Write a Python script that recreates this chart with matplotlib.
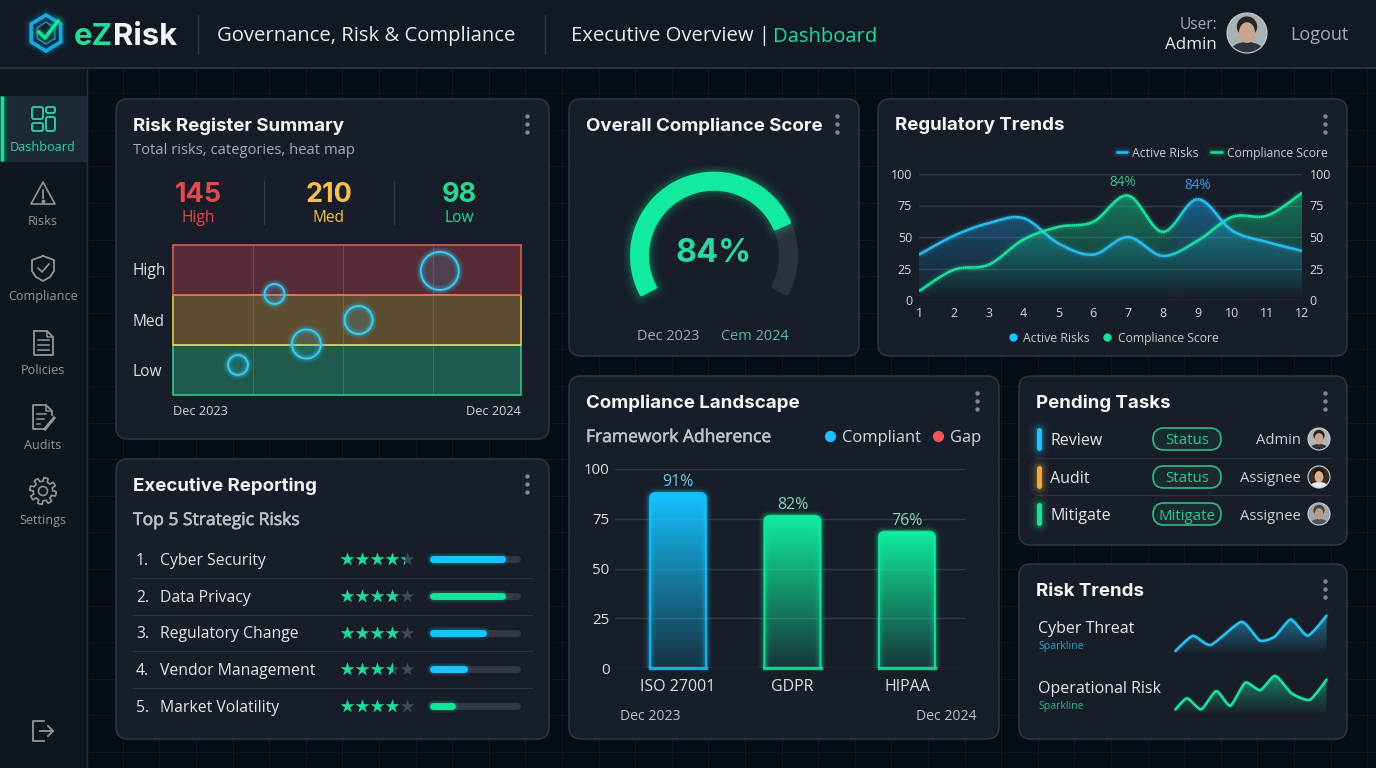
"""Recreate the eZRisk GRC dashboard screenshot."""
import matplotlib
matplotlib.use("Agg")
import matplotlib.patheffects as pe
import matplotlib.pyplot as plt
import numpy as np
from matplotlib.collections import LineCollection
from matplotlib.patches import Circle, Ellipse, FancyBboxPatch, Polygon
from matplotlib.path import Path
from matplotlib.colors import to_rgb

W, H = 1376, 768
BODY = "Open Sans"
HEAD = "Inter"

BG = "#060d15"
CARD = "#171e29"
CARD_EDGE = "#2c3743"
PANEL = "#111924"
LINE = "#2b3440"
CYAN = "#1cc4ff"
GREEN = "#14e39a"
TEAL = "#2fd3b0"
RED = "#e5484d"
AMBER = "#f5c04a"
WHITE = "#f2f4f6"
GRAY = "#a4abb3"

# --- data ---
nav_labels = ["Dashboard", "Risks", "Compliance", "Policies", "Audits", "Settings"]

stat_values = ["145", "210", "98"]
stat_labels = ["High", "Med", "Low"]
stat_colors = [RED, AMBER, "#2fd68f"]

heat_bands = ["Low", "Med", "High"]
heat_grid_months = [2.77, 5.86, 8.96]
bubble_month = [9.2, 3.5, 6.4, 4.6, 2.24]
bubble_level = [2.48, 2.02, 1.5, 1.02, 0.6]
bubble_radius = [19, 10, 14, 14.5, 10]

risk_names = ["Cyber Security", "Data Privacy", "Regulatory Change", "Vendor Management", "Market Volatility"]
risk_stars = [4.3, 4, 4, 3.5, 4]
risk_progress = [82, 82, 60, 37, 22]
risk_bar_colors = [CYAN, GREEN, CYAN, CYAN, GREEN]

gauge_score = 84

# the two traces swap colour between months 8 and 9 in the picture
months = list(range(1, 13))
active_risks = [36, 51, 61, 65, 45, 36, 50, 35, 47, 66, 67, 85]
compliance_score = [7, 24, 28, 48, 58, 62, 83, 54, 80, 55, 46, 39]

frameworks = ["ISO 27001", "GDPR", "HIPAA"]
framework_height = [88, 76.5, 68.5]
framework_label = ["91%", "82%", "76%"]
framework_color = ["#14c4ff", "#10ee9f", "#10ee9f"]

task_names = ["Review", "Audit", "Mitigate"]
task_colors = [CYAN, "#f5a83c", GREEN]
task_pills = ["Status", "Status", "Mitigate"]
task_owner = ["Admin", "Assignee", "Assignee"]

cyber_x = [0, 11.5, 23.4, 43.7, 55.8, 65.8, 76.4, 87.6, 100]
cyber_y = [10, 48, 25, 83, 36, 46, 89, 48, 98]
oper_x = [0, 7.7, 17, 27, 36.3, 46.2, 56.1, 66, 77, 89, 100]
oper_y = [14, 42, 14, 60, 23, 81, 62, 98, 54, 38, 88]

fig = plt.figure(figsize=(W / 100, H / 100), dpi=100)
fig.patch.set_facecolor(BG)
ui = fig.add_axes([0, 0, 1, 1])
ui.set_xlim(0, W)
ui.set_ylim(H, 0)
ui.axis("off")


def px_axes(l, t, r, b):
    ax = fig.add_axes([l / W, 1 - b / H, (r - l) / W, (b - t) / H])
    ax.patch.set_alpha(0)
    for s in ax.spines.values():
        s.set_visible(False)
    return ax


def txt(x, y, s, size, color=WHITE, ha="left", weight="normal", family=BODY, ax=None):
    return (ax or ui).text(x, y, s, fontsize=size * 0.72, color=color, ha=ha, va="center_baseline",
                           fontweight=weight, family=family)


def rbox(l, t, r, b, rad, fc, ec="none", lw=1.0, alpha=1.0, z=2):
    p = FancyBboxPatch((l + rad, t + rad), r - l - 2 * rad, b - t - 2 * rad,
                       boxstyle=f"round,pad={rad},rounding_size={rad}",
                       fc=fc, ec=ec, lw=lw, alpha=alpha, zorder=z)
    ui.add_patch(p)
    return p


def glow_line(ax, x, y, color, lw, z=3, cap="round"):
    for w, a in ((lw * 4, 0.06), (lw * 2.6, 0.1), (lw * 1.7, 0.16)):
        ax.plot(x, y, color=color, lw=w, alpha=a, solid_capstyle=cap, zorder=z)
    ax.plot(x, y, color=color, lw=lw, solid_capstyle=cap, zorder=z + 0.1)


def smooth_xy(xs, ys, tau=0.5, n=16):
    """Hermite curve through the read points, only for drawing the line."""
    p = np.column_stack([xs, ys]).astype(float)
    m = np.zeros_like(p)
    m[1:-1] = tau * (p[2:] - p[:-2])
    m[0] = tau * (p[1] - p[0])
    m[-1] = tau * (p[-1] - p[-2])
    out = []
    for i in range(len(p) - 1):
        for u in np.linspace(0, 1, n, endpoint=False):
            h00 = 2*u**3 - 3*u**2 + 1
            h10 = u**3 - 2*u**2 + u
            h01 = -2*u**3 + 3*u**2
            h11 = u**3 - u**2
            out.append(h00*p[i] + h10*m[i] + h01*p[i+1] + h11*m[i+1])
    out.append(p[-1])
    out = np.array(out)
    return out[:, 0], out[:, 1]


def mix_rgb(xs, c1, c2, x0, x1):
    k = np.clip((np.asarray(xs) - x0) / (x1 - x0), 0, 1)[:, None]
    return np.array(to_rgb(c1)) * (1 - k) + np.array(to_rgb(c2)) * k


def gradient_under(ax, xs, ys, c1, c2, top, base, a_top, swap=(8.0, 8.8), z=2):
    grid_x = np.linspace(xs[0], xs[-1], 200)
    rgb = mix_rgb(grid_x, c1, c2, *swap)
    img = np.zeros((64, 200, 4))
    img[..., :3] = rgb[None, :, :]
    img[..., 3] = np.linspace(a_top, 0, 64)[:, None]
    xl, yl = ax.get_xlim(), ax.get_ylim()
    im = ax.imshow(img, extent=[xs[0], xs[-1], base, top], aspect="auto", zorder=z, interpolation="bilinear")
    verts = list(zip(xs, ys)) + [(xs[-1], base), (xs[0], base), (xs[0], ys[0])]
    im.set_clip_path(Path(verts), transform=ax.transData)
    ax.set_xlim(xl)
    ax.set_ylim(yl)


def color_line(ax, xs, ys, c1, c2, lw, swap=(8.0, 8.8), z=3):
    pts = np.column_stack([xs, ys])
    segs = np.stack([pts[:-1], pts[1:]], axis=1)
    rgb = mix_rgb(xs[:-1], c1, c2, *swap)
    for w, a in ((lw * 4, 0.05), (lw * 2.6, 0.09), (lw * 1.7, 0.14), (lw, 1.0)):
        rgba = np.column_stack([rgb, np.full(len(rgb), a)])
        ax.add_collection(LineCollection(segs, colors=rgba, linewidths=w, capstyle="butt", zorder=z))


def kebab(x, y):
    ui.scatter([x] * 3, [y - 8, y, y + 8], s=10, color="#7f8792", zorder=5, linewidths=0)


def avatar(cx, cy, r, skin="#c9a58c", hair="#2a2420", shirt="#2b333d", bg="#9aa2a8"):
    clip = Circle((cx, cy), r, transform=ui.transData)
    parts = [
        Circle((cx, cy), r, fc=bg, ec="none"),
        Ellipse((cx, cy + r * 0.95), r * 1.7, r * 1.0, fc=shirt, ec="none"),
        Ellipse((cx, cy - r * 0.32), r * 1.02, r * 1.02, fc=hair, ec="none"),
        Ellipse((cx, cy - r * 0.02), r * 0.8, r * 1.04, fc=skin, ec="none"),
    ]
    for p in parts:
        p.set_zorder(6)
        ui.add_patch(p)
        p.set_clip_path(clip)
    ui.add_patch(Circle((cx, cy), r, fc="none", ec="#cdd2d6", lw=0.8, zorder=7))


# page background grid
for x in np.arange(13, W, 36.6):
    ui.plot([x, x], [68, H], color="#0a1c25", lw=0.7, zorder=0)
for y in np.arange(20, H, 36.6):
    if y > 68:
        ui.plot([87, W], [y, y], color="#0a1c25", lw=0.7, zorder=0)

# header + sidebar
ui.fill_between([0, W], 0, 68, color=PANEL, zorder=1)
ui.plot([0, W], [68, 68], color="#2a3642", lw=1.2, zorder=2)
ui.fill_between([0, 87], 68, H, color="#0e1620", zorder=1)
ui.plot([87, 87], [68, H], color="#24303b", lw=1, zorder=2)
ui.fill_between([0, 87], 96, 161, color="#1c2a36", zorder=1.5)
glow_line(ui, [1.5, 1.5], [96, 161], GREEN, 2.4, cap="butt")

# logo
hex_ang = np.deg2rad(np.arange(30, 391, 60))
hx, hy = 46 + 17 * np.cos(hex_ang), 33 + 18 * np.sin(hex_ang)
glow_line(ui, hx, hy, "#1aa8e0", 2.6)
hx2, hy2 = 46 + 10 * np.cos(hex_ang), 33 + 11 * np.sin(hex_ang)
ui.plot(hx2, hy2, color="#168fb5", lw=1.2, zorder=4)
glow_line(ui, [39, 45, 58], [32, 38, 21], GREEN, 2.6, z=5)
txt(74, 34, "eZ", 31, "#24dc9a", weight="bold", family=HEAD)
txt(113, 34, "Risk", 31, WHITE, weight="bold", family=HEAD)

ui.plot([198, 198], [15, 53], color="#2d3844", lw=1, zorder=3)
ui.plot([545, 545], [15, 53], color="#2d3844", lw=1, zorder=3)
txt(217, 34, "Governance, Risk & Compliance", 20.3, "#e9ecef")
txt(571, 34, "Executive Overview |", 20.3, "#e9ecef")
txt(773, 34, "Dashboard", 20.3, "#24dc9a")
txt(1217, 23, "User:", 15.5, GRAY, ha="right")
txt(1217, 43, "Admin", 17, "#e9ecef", ha="right")
avatar(1247, 33, 20, bg="#aab1b5")
txt(1348, 33, "Logout", 18, GRAY, ha="right")

# sidebar icons
ICON = "#8e969f"
nav_y = [146, 220, 295, 369, 444, 519]
for name, y in zip(nav_labels, nav_y):
    txt(43, y, name, 12.6, TEAL if name == "Dashboard" else "#8f969e", ha="center")

# dashboard icon
for l, t, r, b in [(32, 107, 43, 119), (46, 107, 55, 113), (32, 123, 43, 131), (46, 117, 55, 131)]:
    rbox(l, t, r, b, 2, "none", TEAL, 1.3, z=4)
# risks
ui.add_patch(Polygon([(43, 182), (55, 204), (31, 204)], closed=True, fc="none", ec=ICON, lw=1.2, joinstyle="round", zorder=4))
ui.plot([43, 43], [190, 198], color=ICON, lw=1.3, zorder=4)
ui.scatter([43], [201], s=3, color=ICON, zorder=4)
# compliance shield
sx = [43, 54, 54, 50, 43, 36, 32, 32, 43]
sy = [256, 260, 271, 277, 281, 277, 271, 260, 256]
ui.plot(sx, sy, color=ICON, lw=1.3, zorder=4)
ui.plot([38, 42, 49], [268, 272, 264], color=ICON, lw=1.2, zorder=4)
# policies doc
ui.plot([34, 47, 53, 53, 34, 34], [331, 331, 337, 355, 355, 331], color=ICON, lw=1.3, zorder=4)
ui.plot([47, 47, 53], [331, 337, 337], color=ICON, lw=1.1, zorder=4)
for y in (340, 345, 350):
    ui.plot([38, 49], [y, y], color=ICON, lw=1.1, zorder=4)
# audits doc
ui.plot([52, 52, 46, 33, 33, 46], [415, 411, 405, 405, 429, 429], color=ICON, lw=1.3, zorder=4)
ui.plot([46, 46, 52], [405, 411, 411], color=ICON, lw=1.1, zorder=4)
for y, e in ((414, 46), (419, 44), (424, 40)):
    ui.plot([37, e], [y, y], color=ICON, lw=1.1, zorder=4)
ui.plot([45, 54], [429, 418], color=ICON, lw=2.2, zorder=4)
# settings gear
ga = np.linspace(0, 2 * np.pi, 97)
gr = 11.5 + 1.8 * np.sign(np.sin(8 * ga))
ui.plot(43 + gr * np.cos(ga), 491 + gr * np.sin(ga), color=ICON, lw=1.2, zorder=4)
ui.add_patch(Circle((43, 491), 4.5, fc="none", ec=ICON, lw=1.2, zorder=4))
# logout
ui.plot([44, 33, 33, 44], [721, 721, 741, 741], color=ICON, lw=1.3, zorder=4)
ui.plot([40, 53], [731, 731], color=ICON, lw=1.3, zorder=4)
ui.plot([48, 53, 48], [726, 731, 736], color=ICON, lw=1.3, zorder=4)

# cards
cards = {
    "Risk Register Summary": (116, 99, 549, 439),
    "Executive Reporting": (116, 459, 549, 739),
    "Overall Compliance Score": (569, 99, 859, 356),
    "Regulatory Trends": (878, 99, 1347, 356),
    "Compliance Landscape": (569, 376, 999, 739),
    "Pending Tasks": (1019, 376, 1347, 545),
    "Risk Trends": (1019, 564, 1347, 739),
}
for title, (l, t, r, b) in cards.items():
    rbox(l, t, r, b, 12, CARD, CARD_EDGE, 1.1)
    txt(l + 17, t + 25, title, 18.7, WHITE, weight="bold", family=HEAD)
    kebab(r - 22, t + 25)

# --- Risk Register ---
txt(133, 148, "Total risks, categories, heat map", 14.7, GRAY)
for x, v, lab, c in zip([198, 329, 459], stat_values, stat_labels, stat_colors):
    txt(x, 192, v, 27, c, ha="center", weight="bold", family=HEAD)
    txt(x, 216, lab, 15.5, c, ha="center")
for x in (264, 394):
    ui.plot([x, x], [181, 224], color="#323c48", lw=1, zorder=3)
for lab, y in zip(["High", "Med", "Low"], [269, 320, 370]):
    txt(133, y, lab, 15.5, "#dde1e4")
txt(173, 410, "Dec 2023", 12.8, "#d0d4d8")
txt(521, 410, "Dec 2024", 12.8, "#d0d4d8", ha="right")

hm = px_axes(173, 245, 521, 395)
hm.set_xlim(0, 12)
hm.set_ylim(0, 3)
hm.set_xticks([])
hm.set_yticks([])
band_fill = ["#1f5b4d", "#5d4e31", "#582c36"]
band_edge = ["#2fd08f", "#f2d44c", "#e8604f"]
for i, name in enumerate(heat_bands):
    hm.barh(i + 0.5, 12, height=1, left=0, color=band_fill[i], edgecolor="none", zorder=1)
for i in range(3):
    hm.barh(i + 0.5, 12, height=1, left=0, facecolor="none", edgecolor=band_edge[i], lw=1.1, zorder=2, clip_on=False)
hm.vlines(heat_grid_months, 0, 3, color="#8f9a98", lw=0.7, alpha=0.32, zorder=3)
sizes = [(2 * r * 0.72) ** 2 for r in bubble_radius]
hm.scatter(bubble_month, bubble_level, s=sizes, facecolor=(0.11, 0.77, 1.0, 0.13), edgecolor="none", zorder=4, clip_on=False)
for w, a in ((7, 0.09), (5, 0.15), (3, 0.25)):
    hm.scatter(bubble_month, bubble_level, s=sizes, facecolor="none", edgecolor=(0.15, 0.78, 0.95, a), linewidths=w, zorder=4, clip_on=False)
hm.scatter(bubble_month, bubble_level, s=sizes, facecolor="none", edgecolor="#3fcdee", linewidths=1.3, zorder=5, clip_on=False)

# --- Executive Reporting ---
medium = [pe.withStroke(linewidth=0.4, foreground="#bcc2c8")]
txt(133, 519, "Top 5 Strategic Risks", 17.5, "#bcc2c8").set_path_effects(medium)
row_y = [559, 596, 632.5, 669, 706]
for i, (name, y) in enumerate(zip(risk_names, row_y)):
    txt(136, y, f"{i + 1}.", 15.8, "#e3e6e9")
    txt(160, y, name, 15.8, "#e3e6e9")
    if i < 4:
        ui.plot([133, 532], [y + 18.5, y + 18.5], color=LINE, lw=0.9, zorder=3)

star_ax = px_axes(339, 541, 414, 724)
star_ax.set_xlim(0, 5)
star_ax.set_ylim(4.5, -0.5)
star_ax.axis("off")
for row, rating in enumerate(risk_stars):
    star_ax.scatter(np.arange(5) + 0.5, [row] * 5, marker="*", s=105, color="#414955", linewidths=0, zorder=2)
    for k in range(5):
        part = min(max(rating - k, 0), 1)
        if part > 0:
            sc = star_ax.scatter([k + 0.5], [row], marker="*", s=105, color="#1fdc9a", linewidths=0, zorder=3)
            clip = plt.Rectangle((k, row - 0.5), part, 1, transform=star_ax.transData)
            sc.set_clip_path(clip)

bar_ax = px_axes(433.5, 540.6, 516.5, 724.4)
bar_ax.set_xlim(0, 100)
bar_ax.set_ylim(4.5, -0.5)
bar_ax.axis("off")
for row, (v, c) in enumerate(zip(risk_progress, risk_bar_colors)):
    bar_ax.plot([0, 100], [row, row], color="#303844", lw=5, solid_capstyle="round", zorder=1, clip_on=False)
    for w, a in ((9, 0.1), (7, 0.14)):
        bar_ax.plot([0, v], [row, row], color=c, lw=w, alpha=a, solid_capstyle="round", zorder=2, clip_on=False)
    bar_ax.plot([0, v], [row, row], color=c, lw=5, solid_capstyle="round", zorder=3, clip_on=False)

# --- Gauge ---
g = px_axes(624, 165.7, 804, 345.7)
g.set_xlim(-90, 90)
g.set_ylim(-90, 90)
g.axis("off")
START, SWEEP = 208, 219
gauge_end = START - SWEEP * gauge_score / 100


def ring(a0, a1, ro=82, ri=67):
    ang = np.deg2rad(np.linspace(a0, a1, 100))
    outer = np.column_stack([ro * np.cos(ang), ro * np.sin(ang)])
    inner = np.column_stack([ri * np.cos(ang), ri * np.sin(ang)])[::-1]
    return np.vstack([outer, inner])


g.add_patch(Polygon(ring(gauge_end + 3, -27.6), closed=True, fc="#2b323d", ec="#2b323d", lw=3, joinstyle="round", zorder=1))
for w, a in ((16, 0.04), (11, 0.07), (7, 0.12)):
    g.add_patch(Polygon(ring(START, gauge_end), closed=True, fc="none", ec=GREEN, lw=w, alpha=a, joinstyle="round", zorder=2))
g.add_patch(Polygon(ring(START, gauge_end), closed=True, fc="#12ea9e", ec="#12ea9e", lw=3, joinstyle="round", zorder=3))
txt(714, 250, f"{gauge_score}%", 32.5, "#2bd9a0", ha="center", weight="bold", family=HEAD)
txt(668, 334, "Dec 2023", 14.5, GRAY, ha="center")
txt(755, 334, "Cem 2024", 14.5, "#5fb8a0", ha="center")

# --- Regulatory Trends ---
rt = px_axes(919, 174, 1302, 300)
rt.set_xlim(1, 12)
rt.set_ylim(0, 100)
rt.set_xticks(months)
rt.set_yticks([0, 25, 50, 75, 100])
rt.tick_params(length=0, labelsize=12.5 * 0.72, labelcolor="#d6dade", pad=5)
rt.grid(axis="y", color="#333d49", lw=1)
rt.set_axisbelow(True)
for lab in rt.get_xticklabels() + rt.get_yticklabels():
    lab.set_family(BODY)
rt2 = rt.twinx()
rt2.set_ylim(0, 100)
rt2.set_yticks([0, 25, 50, 75, 100])
rt2.tick_params(length=0, labelsize=12.5 * 0.72, labelcolor="#d6dade", pad=5.5)
rt2.patch.set_alpha(0)
for s in rt2.spines.values():
    s.set_visible(False)
for lab in rt2.get_yticklabels():
    lab.set_family(BODY)
LBLUE, LGREEN = "#2ac2f5", "#1ce6a0"
ax_x, ax_y = smooth_xy(months, active_risks)
cx_x, cx_y = smooth_xy(months, compliance_score)
gradient_under(rt, ax_x, ax_y, "#1c9ae0", "#14c98a", 85, 0, 0.5)
gradient_under(rt, cx_x, cx_y, "#14c98a", "#1c9ae0", 85, 0, 0.55)
color_line(rt, ax_x, ax_y, LBLUE, LGREEN, 1.8)
color_line(rt, cx_x, cx_y, LGREEN, LBLUE, 1.8)
rt.text(6.85, 93.5, "84%", color="#3fbf8f", fontsize=9.8, ha="center", va="center", family=BODY)
rt.text(9, 90.5, "84%", color="#3d9fd6", fontsize=9.8, ha="center", va="center", family=BODY)

glow_line(ui, [1117, 1127], [152, 152], CYAN, 1.8, z=5)
txt(1132, 152, "Active Risks", 12.3, "#c9ced3")
glow_line(ui, [1211, 1222], [152, 152], GREEN, 1.8, z=5)
txt(1227, 152, "Compliance Score", 12.1, "#c9ced3")
ui.scatter([1013], [337], s=36, color=CYAN, zorder=5, linewidths=0)
txt(1023, 337, "Active Risks", 12.3, "#c9ced3")
ui.scatter([1107], [337], s=36, color=GREEN, zorder=5, linewidths=0)
txt(1118, 337, "Compliance Score", 12.1, "#c9ced3")

# --- Compliance Landscape ---
txt(586, 436, "Framework Adherence", 17.5, "#bcc2c8").set_path_effects(medium)
ui.scatter([830], [436], s=65, color=CYAN, zorder=5, linewidths=0)
txt(842, 436, "Compliant", 16.5, "#d6dade")
ui.scatter([938], [436], s=65, color="#f0555a", zorder=5, linewidths=0)
txt(950, 436, "Gap", 16.5, "#d6dade")
txt(620, 715, "Dec 2023", 14, "#bcc2c8")
txt(976, 715, "Dec 2024", 14, "#bcc2c8", ha="right")

cl = px_axes(615, 469, 965, 668)
cl.set_xlim(-0.55, 2.507)
cl.set_ylim(0, 100)
x_pos = np.arange(len(frameworks))
cl.set_xticks(x_pos)
cl.set_xticklabels(frameworks, family=BODY)
cl.set_yticks([0, 25, 50, 75, 100])
cl.tick_params(length=0, labelsize=16 * 0.72, labelcolor="#dde1e4", pad=8)
cl.tick_params(axis="y", labelsize=15 * 0.72, pad=4)
for lab in cl.get_yticklabels():
    lab.set_family(BODY)
cl.grid(axis="y", color="#313b47", lw=1)
cl.set_axisbelow(True)
bars = cl.bar(x_pos, framework_height, width=0.49, facecolor="none", edgecolor="none", zorder=3)
# data units -> pixels: 114.5 px per category, 1.99 px per point
BAR_ASPECT = 114.5 / 1.99
BAR_R = 6 / 114.5
for rect, c, lab in zip(bars, framework_color, framework_label):
    x0, bw, h = rect.get_x(), rect.get_width(), rect.get_height()

    def bar_shape(**kw):
        return FancyBboxPatch((x0 + BAR_R, -10), bw - 2 * BAR_R, h + 10 - BAR_R * BAR_ASPECT,
                              boxstyle=f"round,pad={BAR_R},rounding_size={BAR_R}",
                              mutation_aspect=BAR_ASPECT, **kw)

    for w, a in ((9, 0.05), (6, 0.09), (4, 0.14)):
        cl.add_patch(bar_shape(fc="none", ec=c, lw=w, alpha=a, zorder=2))
    r_, g_, b_ = to_rgb(c)
    img = np.zeros((64, 2, 4))
    img[..., 0] = r_
    img[..., 1] = g_
    img[..., 2] = b_
    img[..., 3] = np.linspace(1.0, 0.16, 64)[:, None] ** 1.1
    im = cl.imshow(img, extent=[x0, x0 + bw, 0, h], aspect="auto", zorder=3)
    clip_shape = bar_shape(fc="none", ec="none", transform=cl.transData)
    im.set_clip_path(clip_shape)
    cl.add_patch(bar_shape(fc="none", ec=c, lw=1.6, alpha=0.85, zorder=4))
    cl.plot([x0, x0 + bw], [0, 0], color=c, lw=2.4, alpha=0.85, zorder=4, clip_on=False)
    cl.text(x0 + bw / 2, h + 5.5, lab, color="#72c9dd" if c == framework_color[0] else "#82d6bd",
            fontsize=16 * 0.72, ha="center", va="center", family=BODY, zorder=5)
cl.set_xlim(-0.55, 2.507)
cl.set_ylim(0, 100)

# --- Pending Tasks ---
task_y = [439, 477, 514]
for y, name, c, pill, who in zip(task_y, task_names, task_colors, task_pills, task_owner):
    glow_line(ui, [1038.5, 1038.5], [y - 9, y + 9], c, 3.6, z=4)
    txt(1050, y, name, 16, "#e6e9ec")
    rbox(1153, y - 11, 1221, y + 11, 11, "#1a2b2e", "#2fbb90", 1.2, z=4)
    txt(1187, y, pill, 15, "#30c596", ha="center").set_zorder(5)
    txt(1301, y, who, 14.7, "#cdd2d6", ha="right")
for y in (458, 495):
    ui.plot([1036, 1330], [y, y], color=LINE, lw=0.9, zorder=3)
avatar(1319, 439, 11, bg="#b0b6ba")
avatar(1319, 477, 11, skin="#d8b08f", hair="#20150f", shirt="#e8e8e8", bg="#3a2c22")
avatar(1319, 514, 11, skin="#b99a86", hair="#45403c", shirt="#4a5560", bg="#a0a6aa")

# --- Risk Trends ---
txt(1038, 627, "Cyber Threat", 16, "#e6e9ec")
txt(1038, 645, "Sparkline", 10.5, "#3a9ec6")
txt(1038, 687, "Operational Risk", 16, "#e6e9ec")
txt(1038, 705, "Sparkline", 10.5, "#34b487")

sp1 = px_axes(1175.5, 615, 1326.5, 655)
sp2 = px_axes(1175.5, 675, 1326.5, 715)
for ax, xs, ys, c in ((sp1, cyber_x, cyber_y, "#2ac2f5"), (sp2, oper_x, oper_y, "#1fe3a0")):
    ax.set_xlim(0, 100)
    ax.set_ylim(0, 100)
    ax.axis("off")
    sx_, sy_ = smooth_xy(xs, ys, tau=0.3, n=8)
    gradient_under(ax, sx_, sy_, c, c, 100, 0, 0.5, swap=(0, 1))
    ax.plot(sx_, sy_, color=c, lw=3.6, alpha=0.12, solid_capstyle="round", clip_on=False, zorder=3)
    ax.plot(sx_, sy_, color=c, lw=1.8, solid_capstyle="round", clip_on=False, zorder=4)

fig.savefig("out.png", dpi=100, facecolor=BG)
